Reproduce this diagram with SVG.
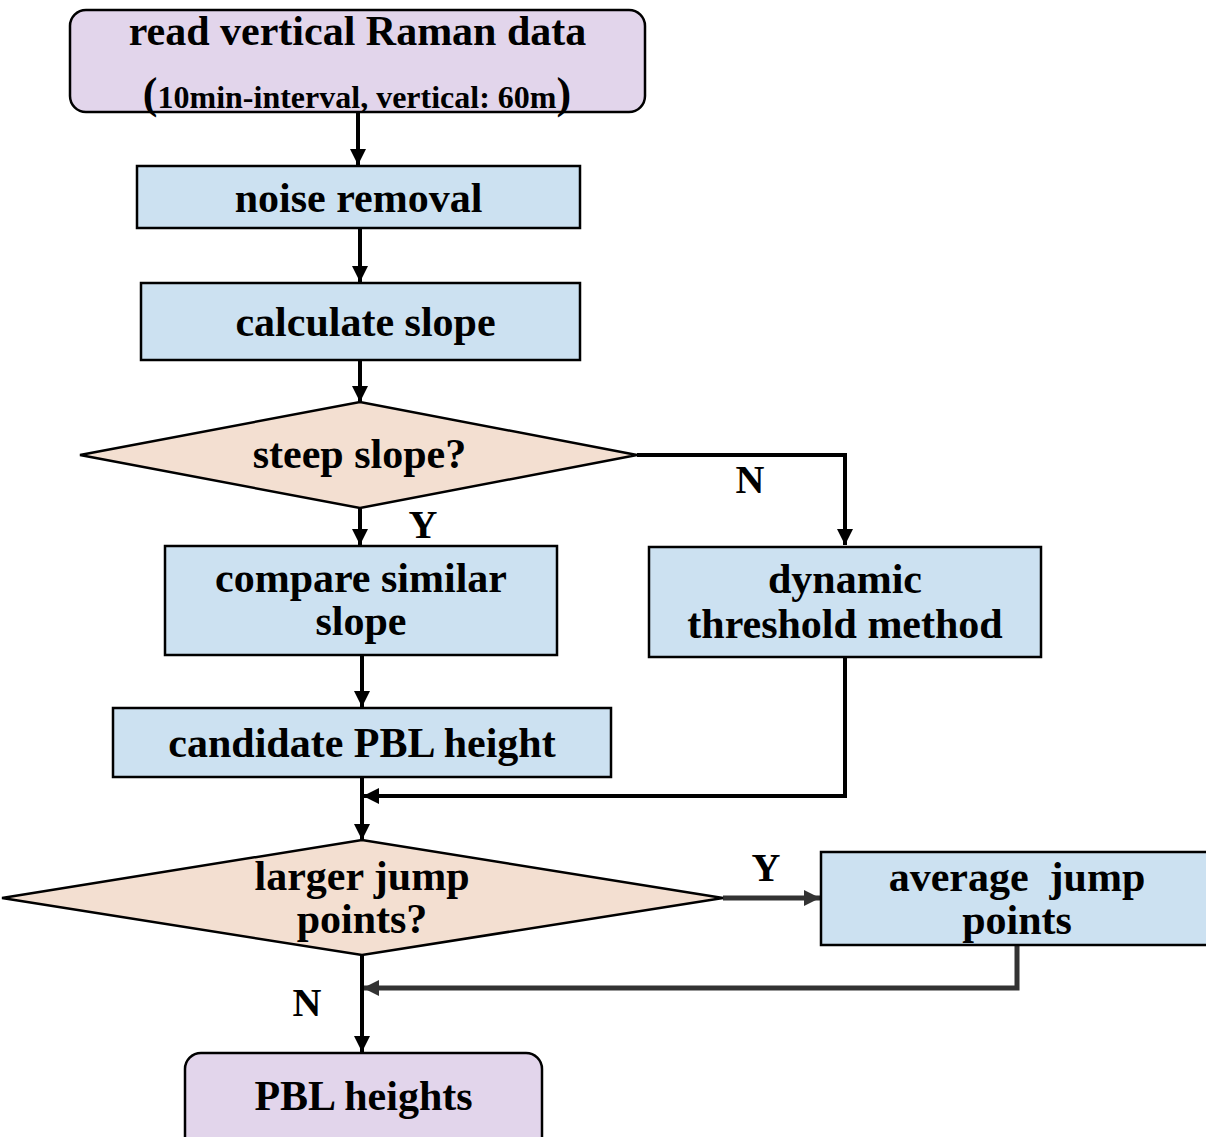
<svg xmlns="http://www.w3.org/2000/svg" width="1206" height="1137" viewBox="0 0 1206 1137">
<style>
.t{font-family:"Liberation Serif","Times New Roman",serif;font-weight:bold;font-size:42px;fill:#000;text-anchor:middle}
.lab{font-family:"Liberation Serif","Times New Roman",serif;font-weight:bold;font-size:40px;fill:#000;text-anchor:middle}
.term{fill:#e2d5eb;stroke:#000;stroke-width:2.5}
.proc{fill:#cce1f1;stroke:#000;stroke-width:2.5}
.dec{fill:#f3dfd1;stroke:#000;stroke-width:2.5}
.c{fill:none;stroke:#000;stroke-width:4}
.g{fill:none;stroke:#333;stroke-width:5}
</style>
<defs>
<marker id="ah" viewBox="0 0 10 10" refX="10" refY="5" markerWidth="4" markerHeight="4" markerUnits="strokeWidth" orient="auto">
<path d="M0,0 L10,5 L0,10 z" fill="#000"/>
</marker>
<marker id="ahg" viewBox="0 0 10 10" refX="10" refY="5" markerWidth="3.2" markerHeight="3.2" markerUnits="strokeWidth" orient="auto">
<path d="M0,0 L10,5 L0,10 z" fill="#333"/>
</marker>
</defs>
<g id="connectors">
<path class="c" d="M358,112 V165" marker-end="url(#ah)"/>
<path class="c" d="M360,228 V282" marker-end="url(#ah)"/>
<path class="c" d="M360,360 V402" marker-end="url(#ah)"/>
<path class="c" d="M637,455 H845 V545" marker-end="url(#ah)"/>
<path class="c" d="M360,508 V545" marker-end="url(#ah)"/>
<path class="c" d="M362,655 V707" marker-end="url(#ah)"/>
<path class="c" d="M845,657 V796 H363" marker-end="url(#ah)"/>
<path class="c" d="M362,777 V840" stroke-width="3.5" marker-end="url(#ah)"/>
<path class="g" d="M723,898 H820" marker-end="url(#ahg)"/>
<path class="g" d="M1017,945 V988 H363" marker-end="url(#ahg)"/>
<path class="c" d="M362,955 V1052" stroke-width="3.5" marker-end="url(#ah)"/>
<text class="lab" x="750" y="493">N</text>
<text class="lab" x="423" y="538">Y</text>
<text class="lab" x="766" y="881">Y</text>
<text class="lab" x="307" y="1016">N</text>
</g>
<g id="n-read">
<rect class="term" x="70" y="10" width="575" height="102" rx="16"/>
<text class="t" x="357.5" y="45">read vertical Raman data</text>
<text class="t" x="357" y="108"><tspan font-size="44">(</tspan><tspan font-size="32">10min-interval, vertical: 60m</tspan><tspan font-size="44">)</tspan></text>
</g>
<g id="n-noise">
<rect class="proc" x="137" y="166" width="443" height="62"/>
<text class="t" x="358.5" y="212">noise removal</text>
</g>
<g id="n-slope">
<rect class="proc" x="141" y="283" width="439" height="77"/>
<text class="t" x="365.5" y="336">calculate slope</text>
</g>
<g id="n-steep">
<polygon class="dec" points="80,455 360,402 637,455 360,508"/>
<text class="t" x="359.5" y="468">steep slope?</text>
</g>
<g id="n-compare">
<rect class="proc" x="165" y="546" width="392" height="109"/>
<text class="t" x="361" y="592">compare similar</text>
<text class="t" x="361" y="635">slope</text>
</g>
<g id="n-dynamic">
<rect class="proc" x="649" y="547" width="392" height="110"/>
<text class="t" x="845" y="593">dynamic</text>
<text class="t" x="845" y="638">threshold method</text>
</g>
<g id="n-candidate">
<rect class="proc" x="113" y="708" width="498" height="69"/>
<text class="t" x="362" y="757">candidate PBL height</text>
</g>
<g id="n-larger">
<polygon class="dec" points="2,898 362,840 723,898 362,955"/>
<text class="t" x="362" y="890">larger jump</text>
<text class="t" x="362" y="933">points?</text>
</g>
<g id="n-average">
<rect class="proc" x="821" y="852" width="390" height="93"/>
<text class="t" x="1017" y="891" xml:space="preserve">average  jump</text>
<text class="t" x="1017" y="934">points</text>
</g>
<g id="n-pbl">
<rect class="term" x="185" y="1053" width="357" height="100" rx="16"/>
<text class="t" x="363.5" y="1110">PBL heights</text>
</g>
</svg>
